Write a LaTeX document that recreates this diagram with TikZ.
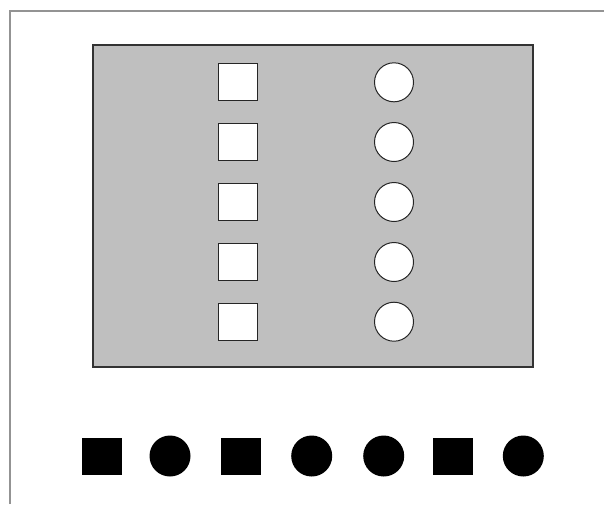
\documentclass[tikz,border=0pt]{standalone}
\begin{document}
\begin{tikzpicture}[x=1pt,y=-1pt,
  frameline/.style={draw=gray!85,line width=2pt},
  panel/.style={draw=black!80,fill=black!25,line width=2pt},
  wsq/.style={draw=black!85,fill=white,line width=1pt,minimum width=39.5pt,minimum height=37pt,inner sep=0pt,rectangle},
  wci/.style={draw=black!85,fill=white,line width=1pt,minimum size=39pt,inner sep=0pt,circle},
  bsq/.style={fill=black,minimum width=40pt,minimum height=37pt,inner sep=0pt,rectangle},
  bci/.style={fill=black,minimum size=41pt,inner sep=0pt,circle}]
\useasboundingbox (0,0) rectangle (604,504);
\fill[white] (0,0) rectangle (604,504);
\coordinate (fl) at (10,504);
\coordinate (fc) at (10,11);
\coordinate (fr) at (604,11);
\draw[frameline] (fl) -- (fc) -- (fr);
\node[panel,rectangle,minimum width=440pt,minimum height=322pt,inner sep=0pt] (panel) at (313,206) {};
\foreach \i/\yy in {1/82.3,2/142,3/202,4/262,5/321.7}{
  \node[wsq] (s\i) at (238,\yy) {};
  \node[wci] (c\i) at (394,\yy) {};
}
\node[bsq] (b1) at (102.3,456) {};
\node[bci] (b2) at (170,456) {};
\node[bsq] (b3) at (241,456) {};
\node[bci] (b4) at (311.7,456) {};
\node[bci] (b5) at (383.7,456) {};
\node[bsq] (b6) at (453.3,456) {};
\node[bci] (b7) at (523.3,456) {};
\end{tikzpicture}
\end{document}
